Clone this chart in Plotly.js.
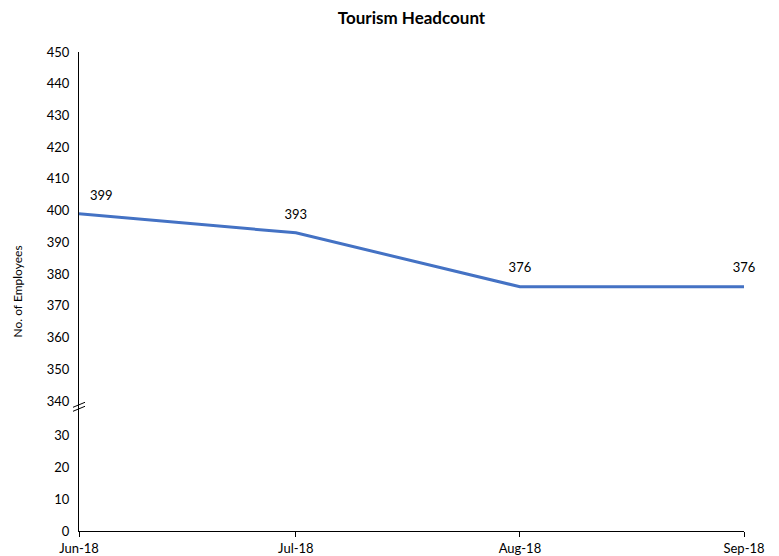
<!DOCTYPE html>
<html>
<head>
<meta charset="utf-8">
<script src="https://cdn.plot.ly/plotly-3.0.1.min.js"></script>
<style>html,body{margin:0;padding:0;background:#fff}#chart{width:779px;height:556px}</style>
</head>
<body>
<div id="chart"></div>
<script>
const months = ['2018-06-01', '2018-07-01', '2018-08-01', '2018-09-01'];
const headcount = [399, 393, 376, 376];
const labelPositions = ['top right', 'top center', 'top center', 'top center'];
const upperTicks = [340, 350, 360, 370, 380, 390, 400, 410, 420, 430, 440, 450];
const lowerTicks = [0, 10, 20, 30];

const lowerRange = [0, 39];
const upperRange = [338, 450];
const total = (lowerRange[1] - lowerRange[0]) + (upperRange[1] - upperRange[0]);
const split = (lowerRange[1] - lowerRange[0]) / total;

const FONT = 'Lato, "Open Sans", sans-serif';

const trace = {
  x: months,
  y: headcount,
  yaxis: 'y2',
  type: 'scatter',
  mode: 'lines+markers+text',
  line: {color: '#4472C4', width: 3},
  marker: {size: 16, color: 'rgba(0,0,0,0)'},
  text: headcount.map(String),
  textposition: labelPositions,
  textfont: {family: FONT, size: 13, color: '#000'},
  cliponaxis: false,
  hoverinfo: 'x+y'
};

// empty companion trace so the lower (broken) axis segment is drawn
const lowerSegment = {
  x: months,
  y: months.map(() => null),
  yaxis: 'y',
  type: 'scatter',
  mode: 'lines',
  showlegend: false,
  hoverinfo: 'skip'
};

const layout = {
  width: 779, height: 556,
  margin: {l: 79, r: 35, t: 52, b: 25},
  paper_bgcolor: '#fff', plot_bgcolor: '#fff',
  showlegend: false,
  title: {text: '<b>Tourism Headcount</b>', x: 0.5, xref: 'paper', y: 0.968, yanchor: 'middle',
          font: {family: FONT, size: 17, color: '#000'}},
  font: {family: FONT, size: 13, color: '#000'},
  xaxis: {
    type: 'date',
    range: [months[0], months[months.length - 1]],
    tickvals: months,
    tickformat: '%b-%y',
    ticks: 'outside', ticklen: 5, tickcolor: '#000',
    showline: true, linecolor: '#000', linewidth: 1,
    showgrid: false, zeroline: false,
    anchor: 'y',
    tickfont: {family: FONT, size: 13, color: '#000'}
  },
  yaxis: {
    domain: [0, split],
    range: lowerRange,
    tickvals: lowerTicks,
    showline: true, linecolor: '#000', linewidth: 1,
    showgrid: false, zeroline: false, ticks: '',
    ticklabelstandoff: 6,
    tickfont: {family: FONT, size: 13, color: '#000'}
  },
  yaxis2: {
    domain: [split, 1],
    range: upperRange,
    tickvals: upperTicks,
    showline: true, linecolor: '#000', linewidth: 1,
    showgrid: false, zeroline: false, ticks: '',
    ticklabelstandoff: 6,
    anchor: 'x',
    tickfont: {family: FONT, size: 13, color: '#000'}
  },
  annotations: [{
    text: 'No. of Employees', xref: 'paper', yref: 'paper',
    x: 0, y: 0.5, xanchor: 'center', yanchor: 'middle', xshift: -62, textangle: -90, showarrow: false,
    font: {family: FONT, size: 12, color: '#000'}
  }],
  shapes: [
    {type: 'line', xref: 'paper', yref: 'paper', xsizemode: 'pixel', ysizemode: 'pixel',
     xanchor: 0, yanchor: split, x0: -6, x1: 6, y0: 0, y1: 5, line: {color: '#000', width: 1}},
    {type: 'line', xref: 'paper', yref: 'paper', xsizemode: 'pixel', ysizemode: 'pixel',
     xanchor: 0, yanchor: split, x0: -6, x1: 6, y0: -4, y1: 1, line: {color: '#000', width: 1}}
  ]
};

Plotly.newPlot('chart', [trace, lowerSegment], layout, {displayModeBar: false, staticPlot: true});
</script>
</body>
</html>
